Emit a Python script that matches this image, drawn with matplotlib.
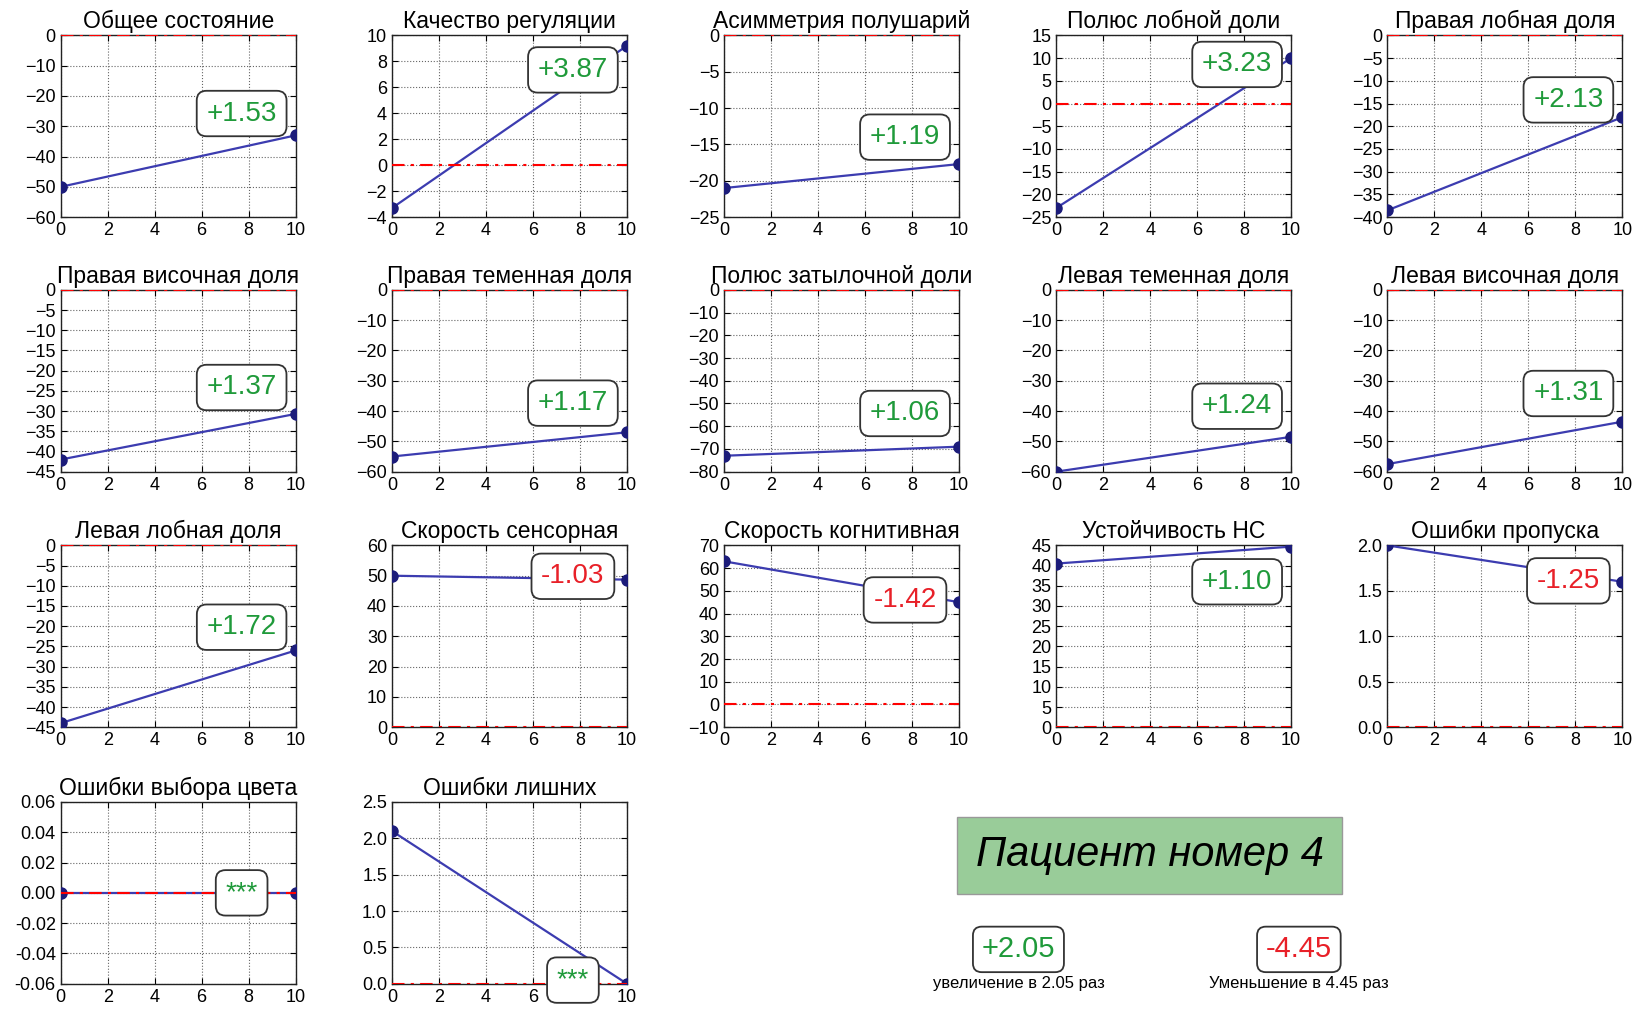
import matplotlib.pyplot as plt
import numpy as np

plt.rcParams['font.family'] = ['Liberation Sans', 'DejaVu Sans']

# данные: значение до (x=0) и после (x=10) курса
titles = ["Общее состояние", "Качество регуляции", "Асимметрия полушарий",
          "Полюс лобной доли", "Правая лобная доля",
          "Правая височная доля", "Правая теменная доля", "Полюс затылочной доли",
          "Левая теменная доля", "Левая височная доля",
          "Левая лобная доля", "Скорость сенсорная", "Скорость когнитивная",
          "Устойчивость НС", "Ошибки пропуска",
          "Ошибки выбора цвета", "Ошибки лишних"]
before = [-50, -3.3, -21, -23, -38.5,
          -42, -55, -73, -60, -57.5,
          -44, 50, 63, 40.5, 2.0,
          0.0, 2.1]
after = [-33, 9.2, -17.7, 10, -18,
         -30.7, -47, -69, -48.5, -43.5,
         -26, 48.7, 45, 44.7, 1.6,
         0.0, 0.0]
ratios = ["+1.53", "+3.87", "+1.19", "+3.23", "+2.13",
          "+1.37", "+1.17", "+1.06", "+1.24", "+1.31",
          "+1.72", "-1.03", "-1.42", "+1.10", "-1.25",
          "***", "***"]
ylims = [(-60, 0), (-4, 10), (-25, 0), (-25, 15), (-40, 0),
         (-45, 0), (-60, 0), (-80, 0), (-60, 0), (-60, 0),
         (-45, 0), (0, 60), (-10, 70), (0, 45), (0, 2),
         (-0.06, 0.06), (0, 2.5)]
ysteps = [10, 2, 5, 5, 5,
          5, 10, 10, 10, 10,
          5, 10, 10, 5, 0.5,
          0.02, 0.5]
yfmt = [None] * 14 + ["%.1f", "%.2f", "%.1f"]

total_up, total_down = "+2.05", "-4.45"
cap_up, cap_down = "увеличение в 2.05 раз", "Уменьшение в 4.45 раз"

# раскладка
col_left = [0.037, 0.239, 0.4415, 0.644, 0.846]
row_bottom = [0.785, 0.533, 0.280, 0.026]
w, h = 0.1433, 0.180
box_y = [0.57, 0.81, 0.44, 0.84, 0.645,
         0.463, 0.377, 0.32, 0.36, 0.43,
         0.55, 0.83, 0.70, 0.80, 0.805,
         0.50, 0.02]

green = "#1f9a3a"
red = "#e82028"

fig = plt.figure(figsize=(16.4, 10.1), dpi=100)

for i, t in enumerate(titles):
    r, c = divmod(i, 5)
    ax = fig.add_axes([col_left[c], row_bottom[r], w, h])
    x = [0, 10]
    ax.plot(x, [before[i], after[i]], '-', color="#3c3cb0", lw=1.6,
            marker='o', ms=8, mfc="#1c1c7a", mec="#1c1c7a", zorder=3)
    ax.axhline(0, color='r', ls=(0, (6, 3, 1.5, 3)), lw=1.5, zorder=4)
    ax.set_xlim(0, 10)
    ax.set_ylim(*ylims[i])
    ax.set_xticks(np.arange(0, 11, 2))
    lo, hi = ylims[i]
    ax.set_yticks(np.arange(lo, hi + ysteps[i] / 2, ysteps[i]))
    if yfmt[i]:
        ax.yaxis.set_major_formatter(plt.FormatStrFormatter(yfmt[i]))
    ax.grid(True, ls=':', color='#666666', lw=0.8)
    ax.tick_params(direction='in', top=True, right=True, labelsize=13, length=4)
    for s in ax.spines.values():
        s.set_linewidth(1.0)
        s.set_color('#222222')
    ax.set_title(t, fontsize=16.5, pad=5)
    col = green if ratios[i].startswith('+') or ratios[i] == '***' else red
    ax.text(0.77, box_y[i], ratios[i], transform=ax.transAxes, fontsize=20,
            color=col, ha='center', va='center', zorder=6, clip_on=False,
            bbox=dict(boxstyle='round,pad=0.35', fc='white', ec='#333333', lw=1.3))

# итоговая панель
fig.text(0.701, 0.153, "Пациент номер 4", fontsize=30, style='italic',
         ha='center', va='center',
         bbox=dict(boxstyle='square,pad=0.45', fc='#99cc99', ec='#999999', lw=1))
fig.text(0.621, 0.060, total_up, fontsize=21, color=green, ha='center', va='center',
         bbox=dict(boxstyle='round,pad=0.3', fc='white', ec='#333333', lw=1.3))
fig.text(0.792, 0.060, total_down, fontsize=21, color=red, ha='center', va='center',
         bbox=dict(boxstyle='round,pad=0.3', fc='white', ec='#333333', lw=1.3))
fig.text(0.621, 0.026, cap_up, fontsize=12, ha='center', va='center')
fig.text(0.792, 0.026, cap_down, fontsize=12, ha='center', va='center')

fig.savefig("out.png", dpi=100)
